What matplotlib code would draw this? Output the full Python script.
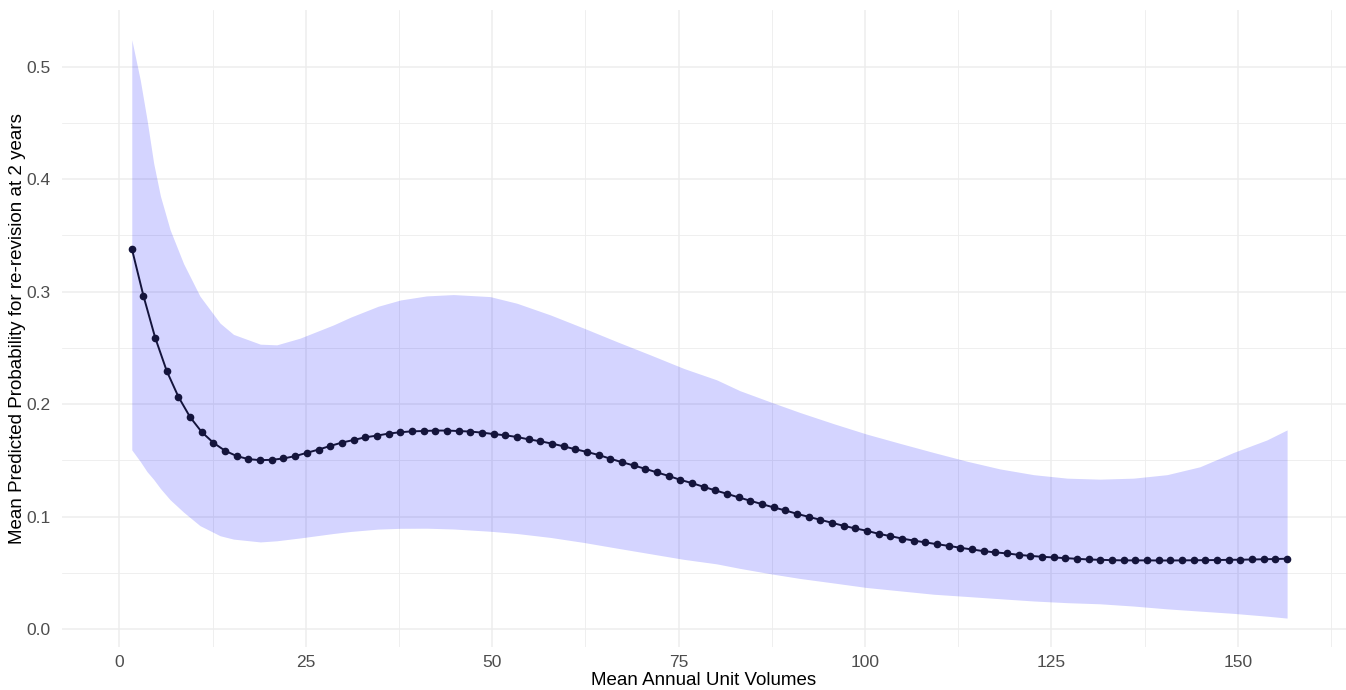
import numpy as np
import matplotlib.pyplot as plt

plt.rcParams['font.family'] = ['Liberation Sans', 'DejaVu Sans']

# prediction grid: 100 evenly spaced volumes
vol_min, vol_max, n_pts = 1.66, 156.6, 100
volume = np.linspace(vol_min, vol_max, n_pts)

prob = [0.3383, 0.2962, 0.2592, 0.2293, 0.2064, 0.1884, 0.1751, 0.1656, 0.1585, 0.1538,
        0.1511, 0.1502, 0.1505, 0.1517, 0.1538, 0.1567, 0.1596, 0.1628, 0.1658, 0.1681,
        0.1705, 0.1720, 0.1738, 0.1750, 0.1758, 0.1761, 0.1765, 0.1765, 0.1761, 0.1756,
        0.1747, 0.1734, 0.1723, 0.1708, 0.1687, 0.1670, 0.1649, 0.1625, 0.1599, 0.1575,
        0.1548, 0.1515, 0.1484, 0.1455, 0.1425, 0.1393, 0.1362, 0.1327, 0.1298, 0.1265,
        0.1233, 0.1203, 0.1171, 0.1141, 0.1111, 0.1082, 0.1055, 0.1025, 0.0998, 0.0972,
        0.0945, 0.0918, 0.0895, 0.0874, 0.0847, 0.0827, 0.0805, 0.0787, 0.0771, 0.0755,
        0.0740, 0.0723, 0.0708, 0.0693, 0.0682, 0.0673, 0.0660, 0.0651, 0.0643, 0.0637,
        0.0631, 0.0625, 0.0619, 0.0616, 0.0613, 0.0611, 0.0611, 0.0611, 0.0610, 0.0610,
        0.0611, 0.0612, 0.0613, 0.0614, 0.0616, 0.0617, 0.0619, 0.0621, 0.0623, 0.0626]

# confidence band, read at these volumes
band_x = [1.66, 2.8, 3.7, 4.6, 5.5, 6.8, 8.6, 10.8, 13.5, 15.3, 18.9, 21.1, 24.2, 28.7,
          31.0, 34.7, 37.7, 41.2, 44.8, 49.7, 53.3, 57.8, 62.3, 66.7, 71.2, 75.7, 80.1,
          83.2, 87.5, 91.3, 95.8, 100.2, 104.7, 109.2, 113.7, 118.1, 122.6, 127.1, 131.5,
          136.0, 140.5, 144.9, 149.4, 153.9, 156.6]
band_hi = [0.524, 0.488, 0.453, 0.414, 0.385, 0.355, 0.325, 0.296, 0.272, 0.262, 0.2533,
           0.2527, 0.2586, 0.2704, 0.2773, 0.287, 0.2926, 0.2962, 0.2974, 0.2956, 0.2897,
           0.2793, 0.2675, 0.2556, 0.2438, 0.2317, 0.2216, 0.2120, 0.2015, 0.1925, 0.1826,
           0.1734, 0.1651, 0.1570, 0.1492, 0.1424, 0.1373, 0.1342, 0.1333, 0.1342, 0.1373,
           0.1443, 0.1570, 0.1682, 0.1771]
band_lo = [0.1593, 0.149, 0.140, 0.133, 0.125, 0.115, 0.104, 0.092, 0.083, 0.080, 0.0775,
           0.0785, 0.081, 0.085, 0.0868, 0.0889, 0.0896, 0.0897, 0.089, 0.087, 0.085,
           0.0815, 0.077, 0.072, 0.067, 0.062, 0.058, 0.054, 0.049, 0.045, 0.041, 0.037,
           0.034, 0.031, 0.029, 0.027, 0.025, 0.0235, 0.0225, 0.0205, 0.018, 0.016, 0.014,
           0.0115, 0.0098]

fig = plt.figure(figsize=(13.46, 6.9), dpi=100)
ax = fig.add_axes([62/1346, 43/690, 1284/1346, 636.6/690])

ax.set_xlim(-7.7, 164.5)
ax.set_ylim(-0.0159, 0.55)

ax.set_xticks([0, 25, 50, 75, 100, 125, 150])
ax.set_xticks([12.5, 37.5, 62.5, 87.5, 112.5, 137.5, 162.5], minor=True)
ax.set_yticks([0.0, 0.1, 0.2, 0.3, 0.4, 0.5])
ax.set_yticks([0.05, 0.15, 0.25, 0.35, 0.45], minor=True)
ax.set_yticklabels(['0.0', '0.1', '0.2', '0.3', '0.4', '0.5'])

ax.grid(which='major', color='#EDEDED', linewidth=1.1)
ax.grid(which='minor', color='#EDEDED', linewidth=0.6)
ax.set_axisbelow(True)
for s in ax.spines.values():
    s.set_visible(False)
ax.tick_params(which='both', length=0)
ax.tick_params(axis='x', pad=6, labelsize=12.5, labelcolor='#4D4D4D')
ax.tick_params(axis='y', pad=8, labelsize=12.5, labelcolor='#4D4D4D')

ax.fill_between(band_x, band_lo, band_hi, color='blue', alpha=0.17, linewidth=0)
ax.plot(volume, prob, color='#14143c', linewidth=1.4, marker='o', markersize=4.5)

ax.set_xlabel('Mean Annual Unit Volumes', fontsize=13.5, va='center')
ax.xaxis.set_label_coords(0.5, -0.052)
ax.set_ylabel('Mean Predicted Probability for re-revision at 2 years', fontsize=13.5, va='center')
ax.yaxis.set_label_coords(-0.0343, 0.5)

plt.savefig('out.png', dpi=100)
